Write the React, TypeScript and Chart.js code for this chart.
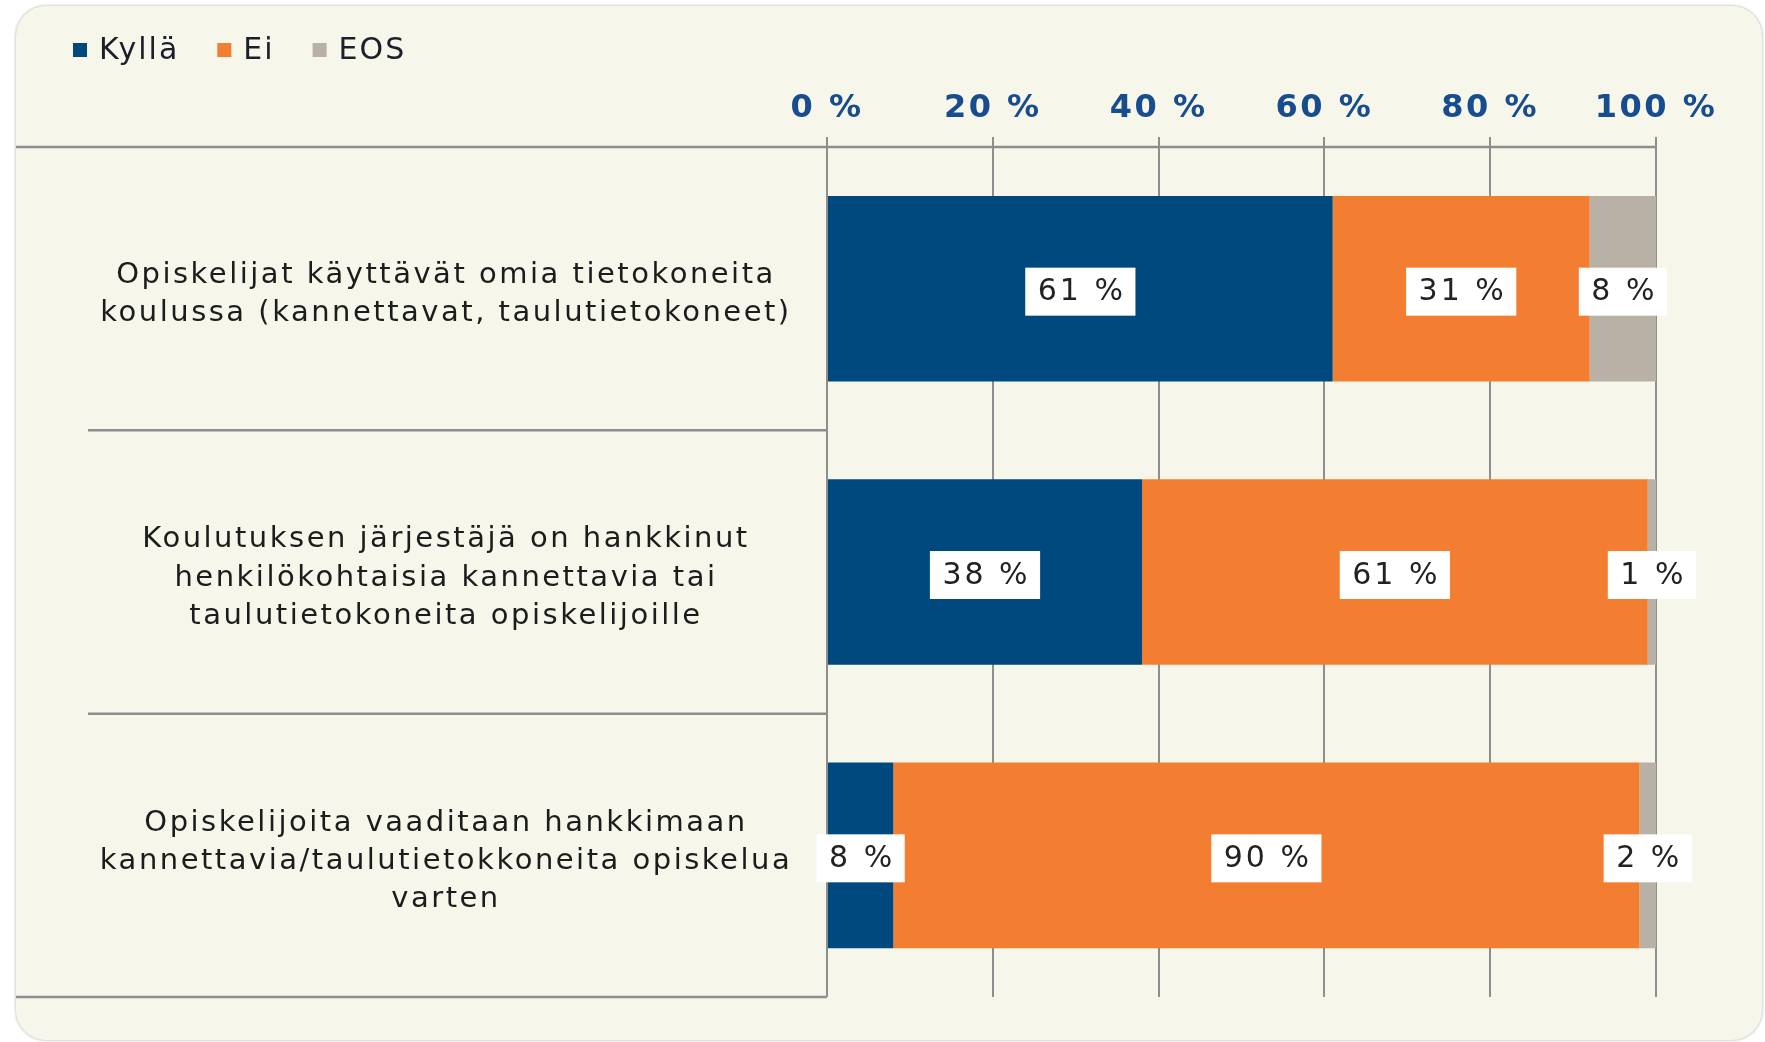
import React, { useEffect, useRef } from "react";
import { Chart, registerables } from "chart.js";

Chart.register(...registerables);

const categories: string[][] = [
  ["Opiskelijat käyttävät omia tietokoneita", "koulussa (kannettavat, taulutietokoneet)"],
  ["Koulutuksen järjestäjä on hankkinut", "henkilökohtaisia kannettavia tai", "taulutietokoneita opiskelijoille"],
  ["Opiskelijoita vaaditaan hankkimaan", "kannettavia/taulutietokkoneita opiskelua", "varten"],
];
const seriesNames = ["Kyllä", "Ei", "EOS"];
const kyllaValues = [61, 38, 8];
const eiValues = [31, 61, 90];
const eosValues = [8, 1, 2];
const xTickValues = [0, 20, 40, 60, 80, 100];
const seriesColors = ["#00497F", "#F37D31", "#B9B1A5"];

const FONT = "'DejaVu Sans', Verdana, sans-serif";

export default function App() {
  const ref = useRef<HTMLCanvasElement>(null);

  useEffect(() => {
    document.body.style.margin = "0";
    const canvas = ref.current!;
    const labelSize = 29;
    const mctx = document.createElement("canvas").getContext("2d")!;
    mctx.font = `${labelSize}px ${FONT}`;
    let widest = 0;
    categories.forEach((lines) =>
      lines.forEach((l) => (widest = Math.max(widest, mctx.measureText(l).width)))
    );
    const AXIS_LEFT = 827;
    const LABEL_CENTER = 446;
    const yPad = AXIS_LEFT - LABEL_CENTER - widest / 2;

    const spacingPlugin = {
      id: "spacing",
      beforeDraw(chart: any) {
        (chart.ctx as any).letterSpacing = "2.5px";
      },
    };

    const decorPlugin = {
      id: "decor",
      beforeDatasetsDraw(chart: any) {
        const { ctx, chartArea } = chart;
        const ys = chart.scales.y;
        ctx.save();
        ctx.strokeStyle = "#8E8E8E";
        ctx.lineWidth = 2.5;
        ctx.beginPath();
        ctx.moveTo(16, chartArea.top);
        ctx.lineTo(chartArea.right, chartArea.top);
        for (let i = 0; i < categories.length - 1; i++) {
          const yy = ys.getPixelForValue(i + 0.5);
          ctx.moveTo(88, yy);
          ctx.lineTo(chartArea.left, yy);
        }
        ctx.moveTo(16, chartArea.bottom);
        ctx.lineTo(chartArea.left, chartArea.bottom);
        ctx.stroke();
        ctx.restore();
      },
    };

    const legendPlugin = {
      id: "customLegend",
      afterDraw(chart: any) {
        const { ctx } = chart;
        ctx.save();
        ctx.font = `30px ${FONT}`;
        (ctx as any).letterSpacing = "2px";
        ctx.textBaseline = "middle";
        ctx.textAlign = "left";
        let x = 73;
        const y = 50;
        chart.data.datasets.forEach((ds: any) => {
          ctx.fillStyle = ds.backgroundColor;
          ctx.fillRect(x, y - 7, 14, 14);
          ctx.fillStyle = "#1E1E2A";
          ctx.fillText(ds.label, x + 26, y + 1);
          x += 26 + ctx.measureText(ds.label).width + 38;
        });
        ctx.restore();
      },
    };

    const dataLabelPlugin = {
      id: "dataLabels",
      afterDatasetsDraw(chart: any) {
        const { ctx } = chart;
        ctx.save();
        ctx.font = `30px ${FONT}`;
        (ctx as any).letterSpacing = "3px";
        ctx.textBaseline = "middle";
        ctx.textAlign = "center";
        chart.data.datasets.forEach((ds: any, di: number) => {
          const meta = chart.getDatasetMeta(di);
          meta.data.forEach((el: any, i: number) => {
            const v = ds.data[i];
            const { x, base, y } = el.getProps(["x", "base", "y"], true);
            const cx = (x + base) / 2;
            const cy = y + 3;
            const text = `${v} %`;
            const tw = ctx.measureText(text).width;
            const w = tw + 22;
            const h = 48;
            ctx.fillStyle = "#FFFFFF";
            ctx.fillRect(cx - w / 2, cy - h / 2, w, h);
            ctx.fillStyle = "#222222";
            ctx.fillText(text, cx + 1.5, cy + 1);
          });
        });
        ctx.restore();
      },
    };

    const chart = new Chart(canvas, {
      type: "bar",
      data: {
        labels: categories,
        datasets: [
          { label: seriesNames[0], data: kyllaValues, backgroundColor: seriesColors[0] },
          { label: seriesNames[1], data: eiValues, backgroundColor: seriesColors[1] },
          { label: seriesNames[2], data: eosValues, backgroundColor: seriesColors[2] },
        ],
      },
      options: {
        indexAxis: "y",
        responsive: false,
        animation: false,
        devicePixelRatio: 1,
        layout: { padding: { left: 0, top: 0, right: 109, bottom: 45 } },
        datasets: {
          bar: { categoryPercentage: 1, barPercentage: 0.655, borderWidth: 0 },
        },
        plugins: {
          legend: { display: false },
          tooltip: { enabled: false },
        },
        scales: {
          x: {
            type: "linear",
            position: "top",
            stacked: true,
            min: 0,
            max: 100,
            afterBuildTicks: (s: any) => {
              s.ticks = xTickValues.map((v) => ({ value: v }));
            },
            afterFit: (s: any) => {
              s.height = 147;
              s.paddingLeft = 0;
              s.paddingRight = 0;
            },
            border: { display: false },
            grid: {
              color: "#8E8E8E",
              lineWidth: 2,
              tickLength: 10,
              drawTicks: true,
            },
            ticks: {
              callback: (v: any) => `${v} %`,
              color: "#174C8E",
              font: { family: FONT, size: 32, weight: "bold" },
              padding: 9,
              maxRotation: 0,
            },
          },
          y: {
            type: "category",
            stacked: true,
            offset: true,
            afterFit: (s: any) => {
              s.width = AXIS_LEFT;
              s.paddingTop = 0;
              s.paddingBottom = 0;
            },
            border: { display: false },
            grid: { display: false, drawTicks: false },
            ticks: {
              crossAlign: "center",
              padding: yPad,
              labelOffset: 6,
              color: "#1C1C1C",
              font: { family: FONT, size: labelSize, lineHeight: 1.32 },
            },
          },
        },
      },
      plugins: [spacingPlugin, decorPlugin, dataLabelPlugin, legendPlugin],
    } as any);

    return () => chart.destroy();
  }, []);

  return (
    <div style={{ position: "absolute", left: 0, top: 0, width: 1765, height: 1042, background: "#FFFFFF", overflow: "hidden" }}>
      <div
        style={{
          position: "absolute",
          left: 16,
          top: 6,
          width: 1746,
          height: 1034,
          background: "#F6F7EA",
          borderRadius: 30,
          boxShadow: "0 0 3px rgba(0,0,0,0.35)",
        }}
      />
      <canvas ref={ref} width={1765} height={1042} style={{ position: "absolute", left: 0, top: 0, width: 1765, height: 1042 }} />
    </div>
  );
}
